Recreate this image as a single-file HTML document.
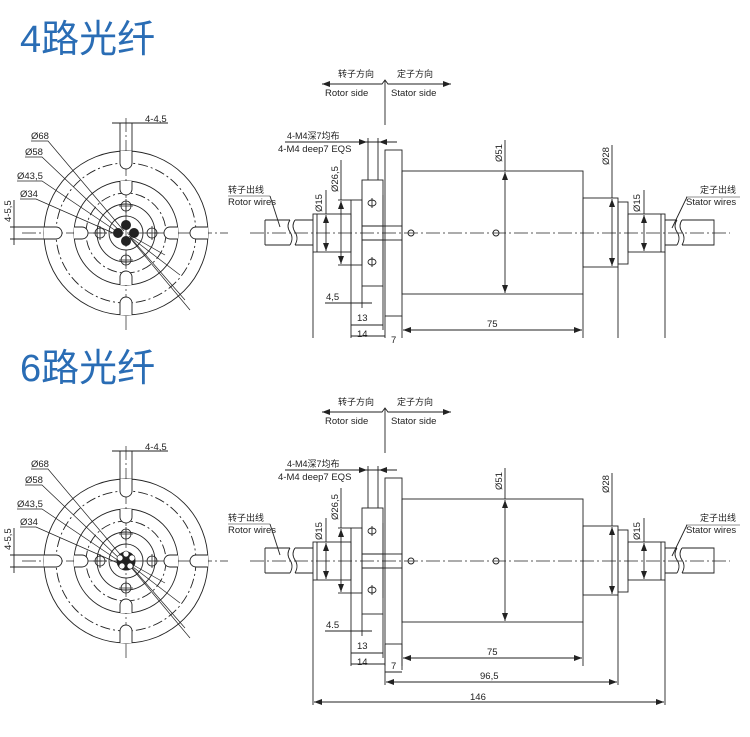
<!DOCTYPE html>
<html><head><meta charset="utf-8"><style>
html,body{margin:0;padding:0;background:#fff;width:750px;height:737px;overflow:hidden}
svg text{font-family:"Liberation Sans","Noto Sans CJK SC",sans-serif;fill:#222}
.t{font-size:38px;fill:#2a6db5 !important;font-family:"Liberation Sans","Noto Sans CJK SC",sans-serif}
.s{font-size:9.5px}
.c{font-size:9px;font-family:"Liberation Sans","Noto Sans CJK SC",sans-serif}
</style></head><body>
<svg width="750" height="737" viewBox="0 0 750 737" xmlns="http://www.w3.org/2000/svg">
<defs>
<marker id="ar" markerWidth="8" markerHeight="6" refX="8" refY="3" orient="auto" markerUnits="userSpaceOnUse"><path d="M0,0 L8,3 L0,6z" fill="#222"/></marker>
<g id="side" fill="none" stroke="#222" stroke-width="0.9">
  <!-- direction -->
  <line x1="385" y1="80" x2="385" y2="125"/>
  <polyline points="322,84 382,84 385,80 388,84 451,84"/>
  <line x1="330" y1="84" x2="322" y2="84" marker-end="url(#ar)"/>
  <line x1="444" y1="84" x2="451" y2="84" marker-end="url(#ar)"/>
  <!-- axis -->
  <line x1="250" y1="233" x2="730" y2="233" stroke-dasharray="14,3,2,3" stroke-width="0.7"/>
  <!-- left cable -->
  <path d="M265,220 H290 M295,220 H313 M265,245 H290 M295,245 H313 M265,220 V245"/>
  <path d="M290,220 q-4,6 0,12 q4,6 0,13 M295,220 q-4,6 0,12 q4,6 0,13"/>
  <!-- left shaft -->
  <rect x="313" y="214" width="38" height="38"/>
  <line x1="317" y1="214" x2="317" y2="252"/>
  <rect x="351" y="200" width="11" height="65"/>
  <rect x="362" y="180" width="21" height="106"/>
  <line x1="362" y1="226" x2="383" y2="226"/><line x1="362" y1="240" x2="383" y2="240"/>
  <rect x="383" y="226" width="19" height="14"/>
  <line x1="383" y1="195" x2="383" y2="270"/>
  <rect x="385" y="150" width="17" height="166"/>
  <!-- body -->
  <rect x="402" y="171" width="181" height="123"/>
  <rect x="583" y="198" width="35" height="69"/>
  <rect x="618" y="202" width="10" height="62"/>
  <rect x="628" y="214" width="37" height="38"/>
  <line x1="661" y1="214" x2="661" y2="252"/>
  <path d="M665,220 H677 M682,220 H714 V245 H682 M677,245 H665"/>
  <path d="M677,220 q-4,6 0,12 q4,6 0,13 M682,220 q-4,6 0,12 q4,6 0,13"/>
  <circle cx="411" cy="233" r="3"/><circle cx="496" cy="233" r="3"/>
  <ellipse cx="372" cy="203" rx="4" ry="3"/><ellipse cx="372" cy="262" rx="4" ry="3"/>
  <line x1="372" y1="198" x2="372" y2="208"/><line x1="372" y1="257" x2="372" y2="267"/>
  <!-- dims -->
  <line x1="505" y1="140" x2="505" y2="171"/>
  <line x1="505" y1="233" x2="505" y2="172" marker-end="url(#ar)"/><line x1="505" y1="233" x2="505" y2="293" marker-end="url(#ar)"/>
  <line x1="612" y1="145" x2="612" y2="198"/>
  <line x1="612" y1="233" x2="612" y2="199" marker-end="url(#ar)"/><line x1="612" y1="233" x2="612" y2="266" marker-end="url(#ar)"/>
  <line x1="644" y1="190" x2="644" y2="214"/>
  <line x1="644" y1="233" x2="644" y2="215" marker-end="url(#ar)"/><line x1="644" y1="233" x2="644" y2="251" marker-end="url(#ar)"/>
  <line x1="326" y1="190" x2="326" y2="214"/>
  <line x1="326" y1="233" x2="326" y2="215" marker-end="url(#ar)"/><line x1="326" y1="233" x2="326" y2="251" marker-end="url(#ar)"/>
  <line x1="341" y1="160" x2="341" y2="200"/>
  <line x1="341" y1="233" x2="341" y2="201" marker-end="url(#ar)"/><line x1="341" y1="233" x2="341" y2="264" marker-end="url(#ar)"/>
  <line x1="338" y1="200" x2="351" y2="200"/><line x1="338" y1="265" x2="351" y2="265"/>
  <line x1="285" y1="142" x2="397" y2="142"/>
  <line x1="368" y1="138" x2="368" y2="180"/><line x1="378" y1="138" x2="378" y2="180"/>
  <line x1="355" y1="142" x2="367" y2="142" marker-end="url(#ar)"/><line x1="392" y1="142" x2="379" y2="142" marker-end="url(#ar)"/>
  <line x1="325" y1="303" x2="372" y2="303"/><line x1="362" y1="286" x2="362" y2="308"/>
  <line x1="351" y1="265" x2="351" y2="338"/><line x1="383" y1="286" x2="383" y2="330"/><line x1="385" y1="316" x2="385" y2="338"/>
  <line x1="402" y1="316" x2="402" y2="338"/><line x1="583" y1="294" x2="583" y2="338"/>
  <line x1="313" y1="252" x2="313" y2="338"/><line x1="618" y1="267" x2="618" y2="338"/><line x1="665" y1="252" x2="665" y2="338"/>
  <line x1="351" y1="325" x2="383" y2="325"/><line x1="351" y1="336" x2="385" y2="336"/>
  <line x1="492" y1="330" x2="403" y2="330" marker-end="url(#ar)"/><line x1="492" y1="330" x2="582" y2="330" marker-end="url(#ar)"/>
  <!-- wire leaders -->
  <line x1="228" y1="196" x2="270" y2="196" stroke-width="0.6"/><line x1="270" y1="196" x2="280" y2="227"/>
  <line x1="686" y1="197" x2="740" y2="197" stroke-width="0.6"/><line x1="687" y1="197" x2="672" y2="228"/>
</g>
<g id="front" fill="none" stroke="#222" stroke-width="0.9">
  <line x1="22" y1="233" x2="228" y2="233" stroke-dasharray="14,3,2,3" stroke-width="0.7"/>
  <line x1="126" y1="118" x2="126" y2="332" stroke-dasharray="14,3,2,3" stroke-width="0.7"/>
  <circle cx="126" cy="233" r="82"/>
  <circle cx="126" cy="233" r="70" stroke-dasharray="10,3,2,3"/>
  <circle cx="126" cy="233" r="52"/>
  <circle cx="126" cy="233" r="40" stroke-dasharray="10,3,2,3"/>
  <circle cx="126" cy="233" r="29"/>
  <circle cx="126" cy="233" r="17"/>
  <!-- outer slots -->
  <g fill="#fff">
  <path d="M120,151 V163 a6,6 0 0 0 12,0 V151"/>
  <path d="M120,315 V303 a6,6 0 0 1 12,0 V315"/>
  <path d="M44,227 H56 a6,6 0 0 1 0,12 H44"/>
  <path d="M208,227 H196 a6,6 0 0 0 0,12 H208"/>
  <path d="M120,181 V189 a6,6 0 0 0 12,0 V181"/>
  <path d="M120,285 V277 a6,6 0 0 1 12,0 V285"/>
  <path d="M74,227 H82 a6,6 0 0 1 0,12 H74"/>
  <path d="M178,227 H170 a6,6 0 0 0 0,12 H178"/>
  </g>
  <line x1="120" y1="123" x2="120" y2="151"/><line x1="132" y1="123" x2="132" y2="151"/>
  <line x1="112" y1="123" x2="168" y2="123"/>
  <line x1="10" y1="227" x2="44" y2="227"/><line x1="10" y1="239" x2="44" y2="239"/>
  <line x1="14" y1="200" x2="14" y2="245"/>
  <!-- screws -->
  <g stroke-width="0.8">
  <circle cx="126" cy="206" r="5"/><path d="M119,206H133M126,199V213"/>
  <circle cx="126" cy="260" r="5"/><path d="M119,260H133M126,253V267"/>
  <circle cx="100" cy="233" r="5"/><path d="M93,233H107M100,226V240"/>
  <circle cx="152" cy="233" r="5"/><path d="M145,233H159M152,226V240"/>
  </g>
  <!-- leaders -->
  <g stroke-width="0.7">
  <path d="M31,141 H48 L124,231"/>
  <path d="M25,157 H42 L122,233"/>
  <path d="M17,181 H42 L122,235"/>
  <path d="M20,199 H36 L120,236"/>
  <path d="M128,234 L165,255"/><path d="M129,236 L180,275"/><path d="M130,237 L185,300"/><path d="M130,238 L190,310"/>
  </g>
</g>
</defs>

<text class="t" x="20" y="52">4路光纤</text>
<text class="t" x="20" y="381">6路光纤</text>

<use href="#side"/>
<use href="#side" transform="translate(0,328)"/>
<use href="#front"/>
<use href="#front" transform="translate(0,328)"/>

<!-- top center fibers (4) -->
<g fill="#222" stroke="#222">
<circle cx="126" cy="225" r="4.5"/><circle cx="126" cy="241" r="4.5"/><circle cx="118" cy="233" r="4.5"/><circle cx="134" cy="233" r="4.5"/>
<circle cx="126" cy="561" r="9"/>
</g>
<g fill="#fff" stroke="#222" stroke-width="0.6">
<circle cx="126" cy="554" r="3"/><circle cx="132" cy="558" r="3"/><circle cx="130" cy="566" r="3"/><circle cx="122" cy="566" r="3"/><circle cx="120" cy="558" r="3"/>
</g>

<!-- texts side view (both) -->
<g class="c">
<text x="338" y="77" class="c">转子方向</text><text x="397" y="77" class="c">定子方向</text>
<text x="325" y="96" class="s">Rotor side</text><text x="391" y="96" class="s">Stator side</text>
<text x="287" y="139" class="c">4-M4深7均布</text><text x="278" y="152" class="s">4-M4 deep7 EQS</text>
<text x="228" y="193" class="c">转子出线</text><text x="228" y="205" class="s">Rotor wires</text>
<text x="700" y="193" class="c">定子出线</text><text x="686" y="205" class="s">Stator wires</text>
<text x="326" y="300" class="s">4,5</text><text x="357" y="321" class="s">13</text><text x="357" y="337" class="s">14</text><text x="391" y="343" class="s">7</text>
<text x="487" y="327" class="s">75</text>

<text x="338" y="405" class="c">转子方向</text><text x="397" y="405" class="c">定子方向</text>
<text x="325" y="424" class="s">Rotor side</text><text x="391" y="424" class="s">Stator side</text>
<text x="287" y="467" class="c">4-M4深7均布</text><text x="278" y="480" class="s">4-M4 deep7 EQS</text>
<text x="228" y="521" class="c">转子出线</text><text x="228" y="533" class="s">Rotor wires</text>
<text x="700" y="521" class="c">定子出线</text><text x="686" y="533" class="s">Stator wires</text>
<text x="326" y="628" class="s">4.5</text><text x="357" y="649" class="s">13</text><text x="357" y="665" class="s">14</text><text x="391" y="669" class="s">7</text>
<text x="487" y="655" class="s">75</text>
<text x="480" y="679" class="s">96,5</text><text x="470" y="700" class="s">146</text>
</g>
<g fill="none" stroke="#222" stroke-width="0.9">
<line x1="385" y1="644" x2="385" y2="685"/><line x1="402" y1="644" x2="402" y2="670"/>
<line x1="385" y1="672" x2="402" y2="672"/>
<line x1="500" y1="682" x2="386" y2="682" marker-end="url(#ar)"/><line x1="500" y1="682" x2="617" y2="682" marker-end="url(#ar)"/>
<line x1="618" y1="666" x2="618" y2="685"/>
<line x1="313" y1="666" x2="313" y2="705"/><line x1="665" y1="666" x2="665" y2="705"/>
<line x1="490" y1="702" x2="314" y2="702" marker-end="url(#ar)"/><line x1="490" y1="702" x2="664" y2="702" marker-end="url(#ar)"/>
</g>
<!-- rotated dim labels -->
<g class="s">
<text transform="translate(322,212) rotate(-90)">Ø15</text>
<text transform="translate(338,192) rotate(-90)">Ø26,5</text>
<text transform="translate(502,162) rotate(-90)">Ø51</text>
<text transform="translate(609,165) rotate(-90)">Ø28</text>
<text transform="translate(640,212) rotate(-90)">Ø15</text>
<text transform="translate(322,540) rotate(-90)">Ø15</text>
<text transform="translate(338,520) rotate(-90)">Ø26,5</text>
<text transform="translate(502,490) rotate(-90)">Ø51</text>
<text transform="translate(609,493) rotate(-90)">Ø28</text>
<text transform="translate(640,540) rotate(-90)">Ø15</text>
<text x="31" y="139">Ø68</text><text x="25" y="155">Ø58</text><text x="17" y="179">Ø43,5</text><text x="20" y="197">Ø34</text>
<text x="145" y="122">4-4,5</text>
<text transform="translate(11,222) rotate(-90)">4-5,5</text>
<text x="31" y="467">Ø68</text><text x="25" y="483">Ø58</text><text x="17" y="507">Ø43,5</text><text x="20" y="525">Ø34</text>
<text x="145" y="450">4-4,5</text>
<text transform="translate(11,550) rotate(-90)">4-5,5</text>
</g>
</svg>
</body></html>
